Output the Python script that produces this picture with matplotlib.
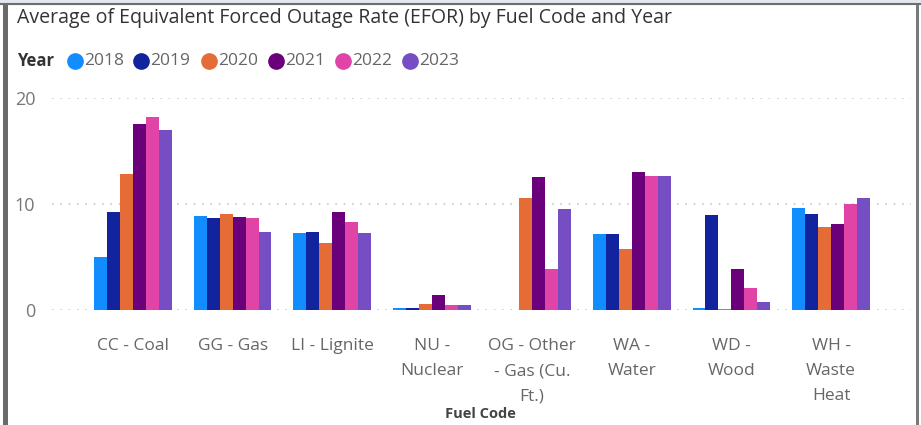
import matplotlib
matplotlib.use("Agg")
import matplotlib.pyplot as plt
from matplotlib.lines import Line2D
from matplotlib.patches import Rectangle
import numpy as np

plt.rcParams['font.family'] = ['Open Sans', 'DejaVu Sans']

categories = ["CC - Coal", "GG - Gas", "LI - Lignite", "NU -\nNuclear",
              "OG - Other\n- Gas (Cu.\nFt.)", "WA -\nWater", "WD -\nWood",
              "WH -\nWaste\nHeat"]
years = ["2018", "2019", "2020", "2021", "2022", "2023"]
colors = ["#118DFF", "#12239E", "#E66C37", "#6B007B", "#E044A7", "#744EC2"]

v2018 = [5.0, 8.9, 7.3, 0.2, np.nan, 7.2, 0.15, 9.6]
v2019 = [9.2, 8.7, 7.4, 0.2, np.nan, 7.2, 9.0, 9.1]
v2020 = [12.8, 9.05, 6.3, 0.6, 10.6, 5.8, 0.1, 7.8]
v2021 = [17.5, 8.75, 9.2, 1.4, 12.5, 13.05, 3.9, 8.1]
v2022 = [18.2, 8.7, 8.3, 0.5, 3.85, 12.6, 2.1, 10.0]
v2023 = [17.0, 7.4, 7.25, 0.5, 9.5, 12.6, 0.8, 10.6]
series = [v2018, v2019, v2020, v2021, v2022, v2023]

W, H = 921, 425
fig = plt.figure(figsize=(W / 100, H / 100), dpi=100)
ax = fig.add_axes([52 / W, 1 - 310 / H, (911 - 52) / W, (310 - 98) / H])

x = np.arange(len(categories))
bw = 0.13
for i, (vals, col) in enumerate(zip(series, colors)):
    ax.bar(x + (i - 2.5) * bw, vals, width=bw, color=col, linewidth=0)

ax.set_xlim(-0.81, 7.8)
ax.set_ylim(0, 20)
ax.set_yticks([0, 10, 20])
ax.yaxis.grid(True, linestyle=(0, (1, 4)), color="#C8C8C8", linewidth=1.2)
ax.set_axisbelow(True)
for s in ax.spines.values():
    s.set_visible(False)
ax.tick_params(axis="both", length=0)
ax.tick_params(axis="y", labelsize=13, labelcolor="#777777", pad=12)
ax.set_xticks(x)
ax.set_xticklabels(categories, fontsize=12.5, color="#666666", linespacing=1.78,
                   va="top")
ax.tick_params(axis="x", pad=20)

fig.text(480 / W, 1 - 414 / H, "Fuel Code", fontsize=10.5, fontweight="bold",
         color="#444444", ha="center", va="center")

# Title
fig.text(17 / W, 1 - 18 / H, "Average of Equivalent Forced Outage Rate (EFOR) by Fuel Code and Year",
         fontsize=14.05, color="#333333", va="center", ha="left")

# Legend
fig.text(17 / W, 1 - 61 / H, "Year", fontsize=12, fontweight="bold", color="#333333",
         va="center", ha="left")
lx = [75, 141, 209, 276, 343, 410]
for px, yr, col in zip(lx, years, colors):
    fig.add_artist(Line2D([px / W], [1 - 61 / H], marker="o", markersize=11,
                          color=col, linestyle="none"))
    fig.text((px + 9) / W, 1 - 61 / H, yr, fontsize=12.5, color="#666666",
             va="center", ha="left")

# Frame
fig.add_artist(Rectangle((0, 1 - 5 / H), 1, 5 / H, color="#E4E8EE", lw=0))
fig.add_artist(Line2D([0, 1], [1 - 4 / H, 1 - 4 / H], color="#6E6E6E", lw=1.5))
fig.add_artist(Rectangle((3 / W, 0), 5 / W, 1 - 4 / H, color="#6A6A6A", lw=0))
fig.add_artist(Rectangle((916 / W, 0), 3 / W, 1 - 4 / H, color="#7A7A7A", lw=0))

fig.savefig("out.png", dpi=100)
